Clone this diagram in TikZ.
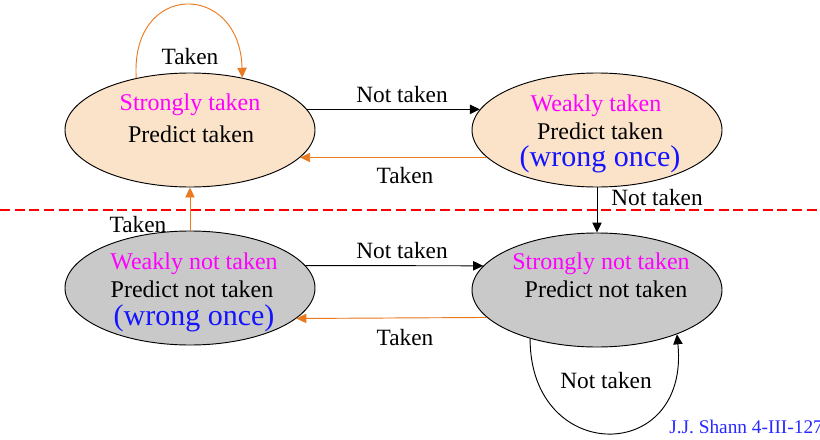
\documentclass[tikz,border=0pt]{standalone}
\usepackage{fontspec}
\setmainfont{Liberation Serif}
\usetikzlibrary{shapes.geometric,arrows.meta}
\definecolor{peach}{RGB}{251,227,201}
\definecolor{stategray}{RGB}{201,201,201}
\definecolor{edgeorange}{RGB}{234,122,32}
\definecolor{namemagenta}{RGB}{255,0,255}
\definecolor{wrongblue}{RGB}{20,20,255}
\definecolor{footblue}{RGB}{40,40,255}
\tikzset{
	state/.style={ellipse, draw, line width=0.7pt, minimum width=187.5pt, minimum height=85.5pt, inner sep=0pt},
	name text/.style={anchor=base, text=namemagenta, font=\fontsize{18}{20}\selectfont},
	predict text/.style={anchor=base, font=\fontsize{18}{20}\selectfont},
	wrong text/.style={anchor=base, text=wrongblue, font=\fontsize{22.5}{24}\selectfont},
	edge text/.style={anchor=base, font=\fontsize{17.5}{20}\selectfont},
	edge/.style={line width=0.7pt, -{Triangle[length=7.5pt,width=7pt]}},
	taken edge/.style={edge, draw=edgeorange, fill=edgeorange}
}
\begin{document}
\begin{tikzpicture}[x=0.75pt, y=-0.75pt]
			\useasboundingbox (0,0) rectangle (820,439);
			% dividing line
			\draw[red, line width=1.6pt, dash pattern=on 7.5pt off 3.5pt] (0,210) -- (820,210);
			% states
			\node[state, fill=peach] (st) at (190,130) {};
			\node[state, fill=peach] (wt) at (597,130) {};
			\node[state, fill=stategray] (wnt) at (190,288) {};
			\node[state, fill=stategray] (snt) at (597,290) {};
			\node[name text] (st1) at (190,110) {Strongly taken};
			\node[predict text] (st2) at (191,142) {Predict taken};
			\node[name text] (wt1) at (596,111) {Weakly taken};
			\node[predict text] (wt2) at (600,139) {Predict taken};
			\node[wrong text] (wt3) at (600,166) {(wrong once)};
			\node[name text] (wnt1) at (194,269) {Weakly not taken};
			\node[predict text] (wnt2) at (192,297) {Predict not taken};
			\node[wrong text] (wnt3) at (194,325) {(wrong once)};
			\node[name text] (snt1) at (601,269) {Strongly not taken};
			\node[predict text] (snt2) at (606,297) {Predict not taken};
			% transitions
			\draw[edge] (st.10) -- (wt.170);
			\draw[taken edge] (wt.194) -- (st.-14);
			\draw[edge] (wt.south) -- (snt.north);
			\draw[taken edge] (wnt.north) -- (st.south);
			\draw[edge] (wnt.11) -- (snt.168);
			\draw[taken edge] (snt.194) -- (wnt.-16);
			\draw[taken edge, fill=none] (st.136) .. controls (130,-19) and (240,-19) .. (st.45);
			\draw[edge] (snt.216) .. controls (530,465) and (690,465) .. (snt.331);
			% labels
			\node[edge text] (l1) at (190,64) {Taken};
			\node[edge text] (l2) at (402,102) {Not taken};
			\node[edge text] (l3) at (405,183) {Taken};
			\node[edge text] (l4) at (657,205) {Not taken};
			\node[edge text] (l5) at (138,232) {Taken};
			\node[edge text] (l6) at (402,258) {Not taken};
			\node[edge text] (l7) at (405,345) {Taken};
			\node[edge text] (l8) at (606,388) {Not taken};
			\node[anchor=base west, inner sep=0pt, text=footblue, font=\fontsize{14.5}{16}\selectfont] (foot) at (669,433) {J.J. Shann 4-III-127};
		\end{tikzpicture}
\end{document}
